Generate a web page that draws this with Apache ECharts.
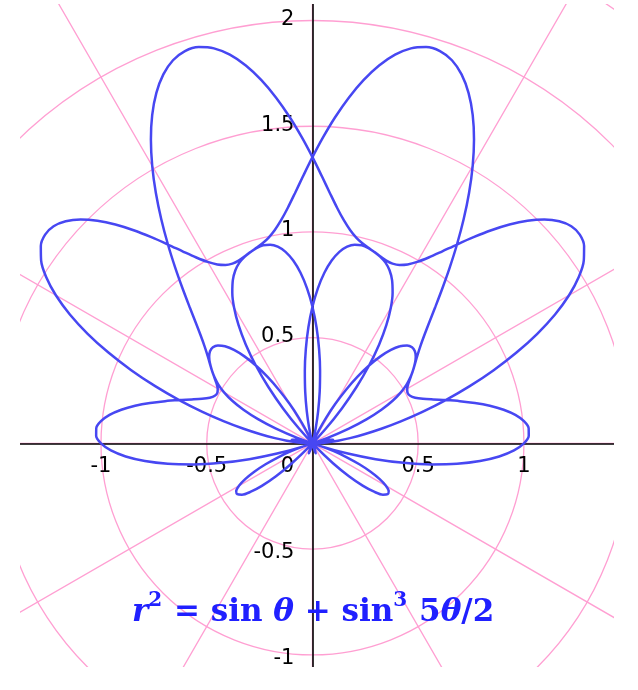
<!DOCTYPE html>
<html>
<head>
<meta charset="utf-8">
<script src="https://cdn.jsdelivr.net/npm/echarts@6/dist/echarts.min.js"></script>
<style>html,body{margin:0;padding:0;background:#fff;}#c{width:638px;height:690px;}</style>
</head>
<body>
<div id="c"></div>
<script>
// Polar curve samples: angle theta (degrees) and radius r (negative r = opposite direction)
const thetaDeg = [0,2,4,6,8,10,12,14,16,18,20,22,24,26,28,30,32,34,36,38,40,42,44,46,48,50,52,54,56,58,60,62,64,66,68,70,72,74,76,78,80,82,84,86,88,90,92,94,96,98,100,102,104,106,108,110,112,114,116,118,120,122,124,126,128,130,132,134,136,138,140,142,144,146,148,150,152,154,156,158,160,162,164,166,168,170,172,174,176,178,180,182,184,186,188,190,192,194,196,198,200,202,204,206,208,210,212,214,216,218,220,222,224,226,228,230,232,234,236,238,240,242,244,246,248,250,252,254,256,258,260,262,264,266,268,270,272,274,276,278,280,282,284,286,288,290,292,294,296,298,300,302,304,306,308,310,312,314,316,318,320,322,324,326,328,330,332,334,336,338,340,342,344,346,348,350,352,354,356,358,360,362,364,366,368,370,372,374,376,378,380,382,384,386,388,390,392,394,396,398,400,402,404,406,408,410,412,414,416,418,420,422,424,426,428,430,432,434,436,438,440,442,444,446,448,450,452,454,456,458,460,462,464,466,468,470,472,474,476,478,480,482,484,486,488,490,492,494,496,498,500,502,504,506,508,510,512,514,516,518,520,522,524,526,528,530,532,534,536,538,540,542,544,546,548,550,552,554,556,558,560,562,564,566,568,570,572,574,576,578,580,582,584,586,588,590,592,594,596,598,600,602,604,606,608,610,612,614,616,618,620,622,624,626,628,630,632,634,636,638,640,642,644,646,648,650,652,654,656,658,660,662,664,666,668,670,672,674,676,678,680,682,684,686,688,690,692,694,696,698,700,702,704,706,708,710,712,714,716,718,720];
const rValues = [
0,0.0356,0.0750,0.1218,0.1792,0.2491,0.3329,0.4306,0.5412,0.6626,0.7915,0.9243,1.0562,1.1828,1.2993,1.4012,1.4850,1.5478,1.5878,1.6043,
1.5979,1.5703,1.5245,1.4637,1.3926,1.3157,1.2375,1.1626,1.0946,1.0367,0.9910,0.9584,0.9388,0.9308,0.9324,0.9404,0.9511,0.9606,0.9651,0.9608,
0.9448,0.9148,0.8695,0.8089,0.7338,0.6464,0.5499,0.4479,0.3450,0.2459,0.1550,0.0769,0.0152,-0.0273,-0.0489,-0.0489,-0.0279,0.0123,0.0690,0.1385,
0.2165,0.2983,0.3795,0.4554,0.5224,0.5773,0.6181,0.6438,0.6547,0.6518,0.6376,0.6150,0.5878,0.5599,0.5351,0.5173,0.5095,0.5139,0.5317,0.5633,
0.6076,0.6626,0.7251,0.7916,0.8574,0.9180,0.9690,1.0057,1.0249,1.0235,1.0000,0.9537,0.8853,0.7967,0.6906,0.5708,0.4416,0.3078,0.1739,0.0446,
-0.0764,-0.1859,-0.2817,-0.3629,-0.4295,-0.4827,-0.5247,-0.5585,-0.5878,-0.6164,-0.6480,-0.6864,-0.7347,-0.7948,-0.8681,-0.9547,-1.0536,-1.1626,-1.2785,-1.3977,
-1.5155,-1.6273,-1.7286,-1.8147,-1.8823,-1.9283,-1.9511,-1.9499,-1.9254,-1.8793,-1.8146,-1.7347,-1.6440,-1.5473,-1.4489,-1.3536,-1.2650,-1.1863,-1.1195,-1.0658,
-1.0248,-0.9954,-0.9755,-0.9620,-0.9511,-0.9390,-0.9220,-0.8962,-0.8588,-0.8074,-0.7410,-0.6593,-0.5634,-0.4554,-0.3385,-0.2163,-0.0936,0.0251,0.1351,0.2321,
0.3123,0.3729,0.4122,0.4294,0.4252,0.4012,0.3603,0.3060,0.2428,0.1751,0.1075,0.0446,-0.0100,-0.0532,-0.0829,-0.0981,-0.0992,-0.0872,-0.0646,-0.0342,
0,
0.0342,0.0646,0.0872,0.0992,0.0981,0.0829,0.0532,0.0100,-0.0446,-0.1075,-0.1751,-0.2428,-0.3060,-0.3603,-0.4012,-0.4252,-0.4294,-0.4122,-0.3729,-0.3123,
-0.2321,-0.1351,-0.0251,0.0936,0.2163,0.3385,0.4554,0.5634,0.6593,0.7410,0.8074,0.8588,0.8962,0.9220,0.9390,0.9511,0.9620,0.9755,0.9954,1.0248,
1.0658,1.1195,1.1863,1.2650,1.3536,1.4489,1.5473,1.6440,1.7347,1.8146,1.8793,1.9254,1.9499,1.9511,1.9283,1.8823,1.8147,1.7286,1.6273,1.5155,
1.3977,1.2785,1.1626,1.0536,0.9547,0.8681,0.7948,0.7347,0.6864,0.6480,0.6164,0.5878,0.5585,0.5247,0.4827,0.4295,0.3629,0.2817,0.1859,0.0764,
-0.0446,-0.1739,-0.3078,-0.4416,-0.5708,-0.6906,-0.7967,-0.8853,-0.9537,-1.0000,-1.0235,-1.0249,-1.0057,-0.9690,-0.9180,-0.8574,-0.7916,-0.7251,-0.6626,-0.6076,
-0.5633,-0.5317,-0.5139,-0.5095,-0.5173,-0.5351,-0.5599,-0.5878,-0.6150,-0.6376,-0.6518,-0.6547,-0.6438,-0.6181,-0.5773,-0.5224,-0.4554,-0.3795,-0.2983,-0.2165,
-0.1385,-0.0690,-0.0123,0.0279,0.0489,0.0489,0.0273,-0.0152,-0.0769,-0.1550,-0.2459,-0.3450,-0.4479,-0.5499,-0.6464,-0.7338,-0.8089,-0.8695,-0.9148,-0.9448,
-0.9608,-0.9651,-0.9606,-0.9511,-0.9404,-0.9324,-0.9308,-0.9388,-0.9584,-0.9910,-1.0367,-1.0946,-1.1626,-1.2375,-1.3157,-1.3926,-1.4637,-1.5245,-1.5703,-1.5979,
-1.6043,-1.5878,-1.5478,-1.4850,-1.4012,-1.2993,-1.1828,-1.0562,-0.9243,-0.7915,-0.6626,-0.5412,-0.4306,-0.3329,-0.2491,-0.1792,-0.1218,-0.0750,-0.0356,0];

const xTicks = [-1, -0.5, 0, 0.5, 1];
const yTicks = [-1, -0.5, 0.5, 1, 1.5, 2];
const radiusRings = [0.5, 1, 1.5, 2, 2.5];
const titleParts = ['r', '2', ' = sin ', 'θ', ' + sin', '3', ' 5', 'θ', '/2'];

// layout
const G = { left: 20, top: 4, width: 594, height: 663 };
const X_MIN = -1.383, X_MAX = 1.426, Y_MIN = -1.057, Y_MAX = 2.078;
const unit = G.width / (X_MAX - X_MIN);
const cx = G.left - X_MIN * unit;
const cy = G.top + Y_MAX * unit;

const PINK = '#ff9fd2';
const CURVE = '#4747f2';
const TITLE = '#2020ff';
const labelFont = { fontFamily: 'DejaVu Sans', fontSize: 21, color: '#000' };
const serif = 'DejaVu Serif';

const chart = echarts.init(document.getElementById('c'), null, { renderer: 'canvas' });

const titleText = '{i|' + titleParts[0] + '}{sup|' + titleParts[1] + '}{n|' + titleParts[2] + '}{i|' + titleParts[3] +
  '}{n|' + titleParts[4] + '}{sup|' + titleParts[5] + '}{n|' + titleParts[6] + '}{i|' + titleParts[7] + '}{n|' + titleParts[8] + '}';

chart.setOption({
  animation: false,
  backgroundColor: '#fff',
  title: {
    text: titleText,
    left: 127, top: 581,
    textStyle: {
      rich: {
        n: { fontFamily: serif, fontWeight: 'bold', fontSize: 31, color: TITLE, lineHeight: 42, verticalAlign: 'bottom' },
        i: { fontFamily: serif, fontWeight: 'bold', fontStyle: 'italic', fontSize: 31, color: TITLE, lineHeight: 42, verticalAlign: 'bottom' },
        sup: { fontFamily: serif, fontWeight: 'bold', fontSize: 20, color: TITLE, lineHeight: 24, verticalAlign: 'top', padding: [5, 1, 0, 0] }
      }
    }
  },
  polar: { center: [cx, cy], radius: radiusRings[radiusRings.length - 1] * unit },
  radiusAxis: {
    type: 'value', min: 0, max: radiusRings[radiusRings.length - 1], interval: 0.5,
    axisLine: { show: false }, axisTick: { show: false }, axisLabel: { show: false },
    splitLine: { show: true, lineStyle: { color: PINK, width: 1.3 } }
  },
  angleAxis: {
    type: 'value', min: 0, max: 360, interval: 30, startAngle: 0, clockwise: false,
    axisLine: { show: false }, axisTick: { show: false }, axisLabel: { show: false },
    splitLine: { show: true, lineStyle: { color: PINK, width: 1.3 } }
  },
  grid: { left: G.left, top: G.top, width: G.width, height: G.height, containLabel: false, outerBoundsMode: 'none' },
  xAxis: {
    type: 'value', min: X_MIN, max: X_MAX, position: 'bottom',
    offset: -(G.top + G.height - cy),
    axisLine: { onZero: false, lineStyle: { color: '#000', width: 1.6 } },
    axisTick: { show: false }, splitLine: { show: false },
    axisLabel: Object.assign({
      customValues: xTicks, margin: 13, hideOverlap: false,
      formatter: v => v === 0 ? '{z|0}' : String(v),
      rich: { z: Object.assign({ padding: [0, 50, 0, 0] }, labelFont) }
    }, labelFont)
  },
  yAxis: {
    type: 'value', min: Y_MIN, max: Y_MAX, position: 'left',
    offset: -(cx - G.left),
    axisLine: { onZero: false, lineStyle: { color: '#000', width: 1.6 } },
    axisTick: { show: false }, splitLine: { show: false },
    axisLabel: Object.assign({
      customValues: yTicks, margin: 18, hideOverlap: false,
      formatter: v => v < 0 ? '{m|' + v + '}' : '{p|' + v + '}',
      rich: {
        m: Object.assign({ padding: [7, 0, 0, 0] }, labelFont),
        p: Object.assign({ padding: [0, 0, 2, 0] }, labelFont)
      }
    }, labelFont)
  },
  graphic: { elements: [
    { type: 'rect', z: 100, silent: true, shape: { x: 0, y: 0, width: G.left, height: 690 }, style: { fill: '#fff' } },
    { type: 'rect', z: 100, silent: true, shape: { x: G.left + G.width, y: 0, width: 638 - G.left - G.width, height: 690 }, style: { fill: '#fff' } },
    { type: 'rect', z: 100, silent: true, shape: { x: 0, y: 0, width: 638, height: G.top }, style: { fill: '#fff' } },
    { type: 'rect', z: 100, silent: true, shape: { x: 0, y: G.top + G.height, width: 638, height: 690 - G.top - G.height }, style: { fill: '#fff' } }
  ] },
  series: [{
    type: 'line', coordinateSystem: 'polar', polarIndex: 0,
    data: thetaDeg.map((t, i) => [rValues[i], t % 360]),
    showSymbol: false, symbol: 'none', smooth: 0.3, clip: false,
    lineStyle: { color: CURVE, width: 2.5 }, z: 3
  }]
});
</script>
</body>
</html>
